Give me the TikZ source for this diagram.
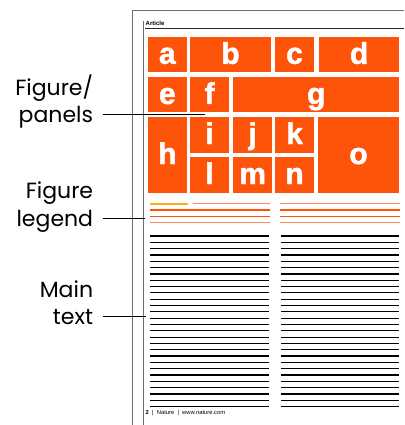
\documentclass[tikz,border=0pt]{standalone}
\usepackage{fontspec}
\setmainfont{Poppins}
\newfontfamily\panelfont{Liberation Sans}[BoldFeatures={FakeBold=1.6}]
\newfontfamily\pagefont{Liberation Sans}
\usetikzlibrary{positioning}
\definecolor{natorange}{HTML}{FE540A}
\definecolor{natyellow}{HTML}{FBB21A}
\definecolor{natsalmon}{HTML}{F98A5E}
\definecolor{framegray}{HTML}{6E6E6E}
\begin{document}
\begin{tikzpicture}[x=1pt, y=-1pt,
  panel/.style={fill=natorange, text=white, inner sep=0pt,
    font=\panelfont\bfseries\fontsize{30}{30}\selectfont, text height=21.6pt, text depth=3pt},
  lbl/.style={font=\fontsize{22}{27.3}\selectfont, align=right, anchor=base east, inner sep=0pt},
  leader/.style={black, line width=0.8pt},
  txtline/.style={black, line width=1.2pt},
  legline/.style={line width=1.3pt}]
\useasboundingbox (0,0) rectangle (404,425);
\draw[framegray, line width=1pt] (132,425) -- (132,11) -- (404,11);
\draw[framegray, line width=1pt] (143,425) -- (143,21);
\draw[black!85, line width=0.9pt] (145,28.5) -- (404,28.5);
\node[anchor=base west, inner sep=0pt, font=\pagefont\bfseries\fontsize{6}{7}\selectfont] (arthead) at (145.5,25.5) {Article};
\node[anchor=base west, inner sep=0pt, font=\pagefont\fontsize{5.8}{6}\selectfont] (pagefoot) at (145.5,414) {\textbf{2}\ \ |\ \ Nature\ \ |\ \ www.nature.com};
\node[panel, minimum width=38.7pt, minimum height=35.6pt] (pa) at (167.35,54.5) {a};
\node[panel, minimum width=81pt, minimum height=35.6pt] (pb) at (230.5,54.5) {b};
\node[panel, minimum width=38.4pt, minimum height=35.6pt] (pc) at (294.5,54.5) {c};
\node[panel, minimum width=80.3pt, minimum height=35.6pt] (pd) at (359.15,54.5) {d};
\node[panel, minimum width=38.7pt, minimum height=35.3pt] (pe) at (167.35,94.65) {e};
\node[panel, minimum width=39pt, minimum height=35.3pt] (pf) at (209.5,94.65) {f};
\node[panel, minimum width=166pt, minimum height=35.3pt] (pg) at (316.3,94.65) {g};
\node[panel, minimum width=38.7pt, minimum height=76pt] (ph) at (167.35,154.7) {h};
\node[panel, minimum width=39pt, minimum height=36pt] (pi) at (209.5,134.7) {i};
\node[panel, minimum width=38.7pt, minimum height=36pt] (pj) at (252.65,134.7) {j};
\node[panel, minimum width=38.4pt, minimum height=36pt] (pk) at (294.5,134.7) {k};
\node[panel, minimum width=39pt, minimum height=36pt] (pl) at (209.5,174.7) {l};
\node[panel, minimum width=38.7pt, minimum height=36pt] (pm) at (252.65,174.7) {m};
\node[panel, minimum width=38.4pt, minimum height=36pt] (pn) at (294.5,174.7) {n};
\node[panel, minimum width=81pt, minimum height=76pt] (po) at (358.5,154.7) {o};
\draw[legline, natyellow, line width=1.6pt] (150,203.7) -- (187.7,203.7);
\draw[legline, natsalmon] (192.7,203.7) -- (269.7,203.7);
\foreach \yy/\cc in {203.7/natsalmon, 210/natorange, 216.3/natorange, 222.7/natsalmon} {
  \draw[legline, \cc] (280.3,\yy) -- (399.7,\yy);
}
\foreach \yy/\cc in {210/natorange, 216.3/natorange, 222.7/natsalmon} {
  \draw[legline, \cc] (150,\yy) -- (269.7,\yy);
}
\foreach \k in {0,...,27} {
  \draw[txtline] (150,{236+6.32*\k}) -- (268.7,{236+6.32*\k});
  \draw[txtline] (280.7,{236+6.32*\k}) -- (399.3,{236+6.32*\k});
}
\node[lbl] (figlbl) at (93.3,122.7) {Figure/\\panels};
\node[lbl] (leglbl) at (93.3,226) {Figure\\legend};
\node[lbl] (txtlbl) at (93.3,324.5) {Main\\text};
\coordinate (figtip) at (204.7,114.3);
\coordinate (legtip) at (145,218.3);
\coordinate (txttip) at (146,316.7);
\draw[leader] (figtip -| figlbl.east) ++(10,0) -- (figtip);
\draw[leader] (legtip -| leglbl.east) ++(10,0) -- (legtip);
\draw[leader] (txttip -| txtlbl.east) ++(10,0) -- (txttip);
\end{tikzpicture}
\end{document}
